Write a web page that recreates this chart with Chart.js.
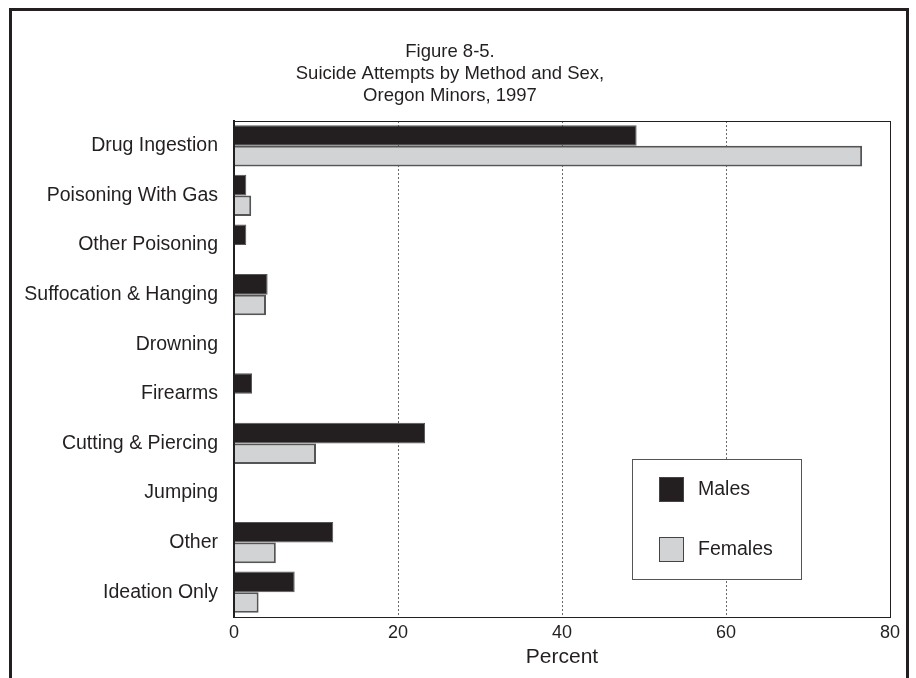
<!DOCTYPE html>
<html>
<head>
<meta charset="utf-8">
<script src="https://cdn.jsdelivr.net/npm/chart.js@4"></script>
<style>
  html, body { margin: 0; padding: 0; background: #fff; }
  #wrap { position: relative; width: 916px; height: 678px; }
  #frame {
    position: absolute; left: 9px; top: 8px; width: 900px; height: 680px;
    border: 3px solid #231f20; border-bottom: none; box-sizing: border-box;
  }
  canvas { position: absolute; left: 0; top: 0; }
</style>
</head>
<body>
<div id="wrap">
  <div id="frame"></div>
  <canvas id="chart" width="916" height="678"></canvas>
</div>
<script>
// Data
const methods = ['Drug Ingestion', 'Poisoning With Gas', 'Other Poisoning', 'Suffocation & Hanging',
  'Drowning', 'Firearms', 'Cutting & Piercing', 'Jumping', 'Other', 'Ideation Only'];
const males = [49.1, 1.5, 1.5, 4.1, 0, 2.2, 23.3, 0, 12.1, 7.4];
const females = [76.6, 2.1, 0, 3.9, 0, 0, 10.0, 0, 5.1, 3.0];
const xTicks = [0, 20, 40, 60, 80];
const titleLines = ['Figure 8-5.', 'Suicide Attempts by Method and Sex,', 'Oregon Minors, 1997'];

const FONT = '"Liberation Sans", Arial, Helvetica, sans-serif';

// Legend box drawn inside the plot area
const boxLegend = {
  id: 'boxLegend',
  afterDatasetsDraw(chart) {
    const ctx = chart.ctx;
    const x = 632, y = 459, w = 169, h = 120;
    ctx.save();
    ctx.fillStyle = '#fff';
    ctx.fillRect(x, y, w, h);
    ctx.strokeStyle = '#555';
    ctx.lineWidth = 1;
    ctx.strokeRect(x + 0.5, y + 0.5, w, h);
    chart.data.datasets.forEach((ds, i) => {
      const sy = y + 18 + i * 60;
      ctx.fillStyle = ds.backgroundColor;
      ctx.fillRect(x + 27, sy, 25, 25);
      ctx.strokeStyle = '#444';
      ctx.strokeRect(x + 27.5, sy + 0.5, 24, 24);
      ctx.fillStyle = '#231f20';
      ctx.font = '19.5px ' + FONT;
      ctx.textBaseline = 'middle';
      ctx.fillText(ds.label, x + 66, sy + 13);
    });
    ctx.restore();
  }
};

new Chart(document.getElementById('chart'), {
  type: 'bar',
  data: {
    labels: methods,
    datasets: [
      { label: 'Males', data: males, backgroundColor: '#231f20', borderColor: '#555', borderWidth: 1 },
      { label: 'Females', data: females, backgroundColor: '#d1d3d4', borderColor: '#555', borderWidth: 2 }
    ]
  },
  options: {
    indexAxis: 'y',
    responsive: false,
    animation: false,
    categoryPercentage: 0.83,
    barPercentage: 1.0,
    layout: { padding: { left: 10, right: 26, top: 0, bottom: 0 } },
    plugins: {
      legend: { display: false },
      tooltip: { enabled: false },
      title: {
        display: true,
        text: titleLines,
        color: '#231f20',
        font: { family: FONT, size: 18.5, weight: 'normal', lineHeight: 1.19 },
        padding: { top: 41, bottom: 14 }
      }
    },
    scales: {
      x: {
        min: 0, max: 80,
        afterBuildTicks(s) { s.ticks = xTicks.map(v => ({ value: v })); },
        afterFit(s) { s.height = 61; },
        border: { display: true, color: '#231f20', width: 1 },
        grid: { display: false, drawTicks: false },
        ticks: { color: '#231f20', padding: 5, font: { family: FONT, size: 18 } },
        title: { display: true, text: 'Percent', color: '#231f20',
          font: { family: FONT, size: 21 }, padding: { top: 0, bottom: 8 } }
      },
      y: {
        afterFit(s) { s.width = 224; },
        border: { display: true, color: '#231f20', width: 2 },
        grid: { display: false, drawTicks: false },
        ticks: { color: '#231f20', padding: 16, font: { family: FONT, size: 19.5 } }
      }
    }
  },
  plugins: [{
    id: 'plotFrame',
    beforeDatasetsDraw(chart) {
      // dotted gridlines at inner ticks
      const { ctx, chartArea: a, scales: { x } } = chart;
      ctx.save();
      ctx.strokeStyle = '#666';
      ctx.lineWidth = 1;
      ctx.setLineDash([2, 2]);
      xTicks.slice(1, -1).forEach(v => {
        const px = Math.round(x.getPixelForValue(v)) + 0.5;
        ctx.beginPath(); ctx.moveTo(px, a.top); ctx.lineTo(px, a.bottom); ctx.stroke();
      });
      ctx.restore();
    },
    afterDraw(chart) {
      const { ctx, chartArea: a } = chart;
      ctx.save();
      ctx.strokeStyle = '#231f20';
      ctx.lineWidth = 1;
      ctx.strokeRect(Math.round(a.left) + 0.5, Math.round(a.top) + 0.5,
        Math.round(a.right - a.left), Math.round(a.bottom - a.top));
      ctx.restore();
    }
  }, boxLegend]
});
</script>
</body>
</html>
